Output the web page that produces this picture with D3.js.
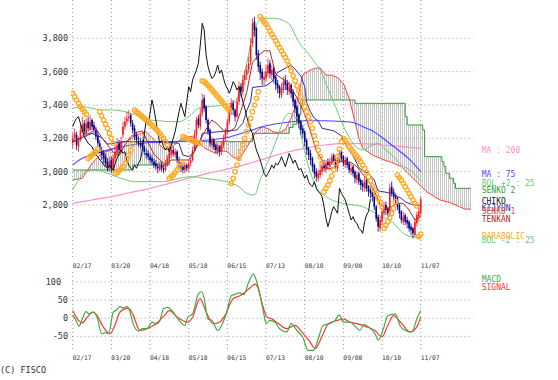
<!DOCTYPE html>
<html><head><meta charset="utf-8">
<script src="https://cdn.jsdelivr.net/npm/d3@7"></script>
<style>body{margin:0;background:#fff}text{font-family:"DejaVu Sans Mono",monospace}</style>
</head><body>
<svg id="c" width="558" height="380"></svg>
<script>
// ---------- data ----------
const dateLabels = ["02/17","03/20","04/18","05/18","06/15","07/13","08/10","09/08","10/10","11/07"];
const dateIdx = [0,20,40,60,80,100,120,140,160,180];
const priceTicks = [2800,3000,3200,3400,3600,3800];
const macdTicks = [-50,0,50,100];

const open = [3170,3200,3220,3150,3190,3240,3290,3230,3300,3250,3310,3280,3250,3220,3170,3120,3110,3090,3060,3020,
3070,3010,3080,3110,3170,3120,3220,3270,3300,3320,3340,3290,3260,3220,3180,3170,3170,3150,3110,3110,
3090,3080,3060,3050,3030,3010,3040,3020,3010,3050,3080,3100,3130,3100,3120,3070,3040,3030,3010,3040,
3020,3050,3070,3130,3220,3320,3270,3350,3440,3390,3310,3250,3160,3190,3160,3120,3150,3120,3160,3200,
3240,3300,3360,3410,3370,3330,3420,3510,3480,3550,3580,3610,3660,3770,3900,3860,3710,3640,3600,3550,
3560,3590,3650,3580,3620,3570,3530,3510,3460,3490,3550,3530,3480,3520,3480,3430,3390,3340,3300,3260,
3240,3190,3140,3110,3080,3040,3000,2960,2980,3000,3050,3010,3060,3030,3050,3100,3070,3020,3060,3120,
3090,3040,3080,3050,3000,3030,3000,2950,2990,2950,2930,2900,2950,2910,2890,2880,2860,2790,2730,2660,
2700,2750,2800,2780,2740,2910,2880,2860,2840,2800,2760,2700,2740,2710,2700,2670,2660,2620,2690,2730,2750];
const high = [3230,3260,3240,3210,3290,3330,3310,3320,3330,3340,3320,3300,3270,3240,3190,3150,3130,3110,3080,3090,
3090,3100,3150,3200,3190,3210,3300,3330,3360,3370,3350,3310,3280,3240,3210,3200,3190,3160,3140,3130,
3110,3100,3080,3070,3050,3060,3060,3040,3070,3100,3140,3150,3150,3140,3130,3090,3060,3050,3060,3050,
3070,3090,3150,3250,3330,3340,3380,3470,3460,3400,3320,3260,3210,3200,3170,3170,3160,3180,3220,3260,
3320,3390,3440,3430,3380,3440,3540,3530,3580,3610,3640,3690,3800,3920,3930,3870,3730,3660,3620,3600,
3640,3680,3670,3640,3630,3580,3550,3520,3530,3570,3580,3550,3540,3530,3490,3440,3400,3350,3310,3280,
3250,3200,3150,3130,3090,3050,3020,3010,3040,3070,3070,3070,3080,3080,3110,3110,3080,3090,3130,3130,
3100,3090,3090,3060,3050,3040,3010,3000,3000,2960,2950,2970,2960,2920,2910,2900,2870,2800,2740,2730,
2780,2820,2820,2790,2930,2940,2900,2870,2850,2810,2770,2760,2750,2730,2710,2690,2670,2720,2760,2790,2850];
const low = [3140,3180,3130,3120,3180,3230,3220,3210,3240,3240,3250,3230,3190,3150,3110,3070,3050,3030,3000,3000,
2990,3000,3060,3100,3110,3110,3200,3250,3280,3300,3270,3230,3190,3170,3150,3140,3130,3100,3080,3070,
3050,3040,3020,3010,2990,3000,3000,2990,3000,3030,3060,3080,3090,3080,3050,3020,3000,2990,2990,3000,
3000,3030,3060,3120,3200,3260,3250,3330,3360,3290,3220,3150,3140,3130,3110,3100,3090,3100,3140,3180,
3220,3280,3340,3340,3300,3320,3400,3450,3460,3520,3550,3590,3640,3750,3810,3670,3600,3550,3520,3520,
3540,3570,3560,3550,3530,3490,3470,3440,3440,3470,3490,3460,3460,3440,3390,3350,3300,3260,3220,3200,
3150,3100,3070,3040,3000,2960,2940,2940,2960,2980,3000,2990,3020,3010,3040,3040,3010,3000,3050,3060,
3030,3020,3020,2990,2980,2970,2930,2930,2920,2890,2880,2880,2880,2850,2840,2820,2770,2700,2640,2640,
2680,2730,2740,2720,2730,2850,2820,2800,2770,2720,2690,2680,2680,2660,2640,2620,2600,2610,2670,2700,2730];
const close = [3200,3230,3160,3190,3250,3280,3240,3290,3260,3300,3270,3250,3210,3170,3130,3100,3080,3050,3030,3060,
3020,3080,3120,3160,3130,3180,3270,3300,3320,3330,3290,3250,3210,3190,3170,3160,3150,3120,3100,3090,
3070,3060,3040,3030,3020,3040,3020,3010,3050,3080,3110,3130,3110,3120,3070,3040,3020,3010,3040,3020,
3050,3070,3130,3220,3310,3280,3350,3430,3380,3310,3240,3170,3190,3150,3130,3150,3120,3160,3200,3240,
3300,3360,3410,3370,3330,3420,3510,3480,3550,3580,3610,3650,3760,3890,3850,3700,3630,3590,3560,3570,
3600,3640,3590,3610,3560,3520,3500,3470,3500,3540,3520,3490,3510,3470,3420,3380,3330,3290,3250,3230,
3180,3130,3100,3070,3030,2990,2970,2990,3010,3040,3020,3050,3040,3060,3090,3060,3030,3070,3110,3080,
3050,3070,3040,3010,3020,2990,2960,2980,2940,2920,2910,2940,2900,2880,2870,2850,2790,2720,2670,2710,
2760,2790,2770,2750,2900,2870,2850,2830,2790,2750,2710,2730,2700,2690,2660,2650,2630,2700,2740,2760,2835];

const sar = [3470,3450,3430,3410,3390,3375,3360,3345,
3080,3090,3100,3110,3120,3135,
3360,3335,3310,3285,3260,3230,3200,3170,
2990,2995,3005,3015,3030,3050,3075,3100,3130,3165,
3370,3360,3350,3340,3330,3320,3310,3300,3290,3280,3268,3256,3244,3230,3215,3200,3180,3160,
2960,2970,2980,2995,3010,3030,3055,
3210,3205,3200,3195,3190,3185,3180,3178,3175,3172,
3545,3540,3530,3518,3505,3492,3478,3465,3450,3437,3423,3410,3395,3382,3370,
2930,2960,3000,3040,3080,3120,3160,3200,3240,3280,3320,3360,3400,3440,3480,
3930,3915,3900,3885,3865,3845,3825,3805,3785,3765,3745,3725,3705,3685,3665,3635,3605,3575,3545,3515,3485,3450,3420,3390,3360,3330,3300,3260,3215,3170,3130,3090,3050,
2880,2900,2920,2945,2975,3010,3050,3090,3135,3180,
3200,3188,3170,3150,3135,3120,3105,3090,3075,3060,3040,3020,2995,2970,2945,2915,2890,2865,2840,2815,2790,
2660,2680,2700,2725,2750,2780,2820,
2980,2965,2950,2930,2910,2890,2870,2850,2830,2810,2795,
2610,2625];

// [bar index, value]
const ma200 = [[0,2810],[10,2830],[20,2850],[30,2875],[40,2900],[50,2930],[60,2960],[70,2990],[80,3015],[90,3045],[100,3080],[110,3115],[120,3140],[130,3160],[140,3170],[150,3168],[160,3160],[170,3150],[180,3140]];
const ma75 = [[0,3040],[5,3080],[10,3100],[20,3135],[30,3160],[40,3175],[50,3180],[60,3185],[70,3190],[80,3205],[90,3240],[100,3275],[110,3295],[120,3305],[130,3305],[140,3300],[145,3295],[150,3270],[155,3245],[160,3205],[165,3160],[170,3115],[175,3065],[180,3000]];
const bolUp = [[0,3380],[5,3390],[10,3380],[15,3370],[20,3370],[25,3365],[30,3350],[35,3330],[40,3310],[45,3305],[50,3300],[55,3300],[60,3330],[65,3380],[70,3390],[75,3395],[80,3405],[84,3420],[86,3470],[88,3550],[90,3650],[92,3760],[94,3850],[96,3900],[98,3920],[104,3920],[110,3900],[113,3870],[115,3820],[118,3760],[121,3720],[125,3660],[128,3610],[131,3530],[133,3470],[136,3390],[139,3300],[141,3250],[145,3170],[150,3130],[155,3160],[158,3170],[162,3130],[166,3090],[170,3040],[175,3005],[180,2945]];
const bolDn = [[0,2890],[3,2950],[7,3000],[12,3010],[18,2990],[25,2960],[32,2940],[40,2940],[47,2940],[55,2960],[62,2970],[68,2960],[75,2950],[82,2930],[86,2910],[90,2870],[94,2860],[97,2950],[102,3090],[106,3210],[109,3310],[112,3350],[116,3310],[119,3170],[122,3030],[126,2910],[131,2850],[140,2810],[150,2790],[158,2740],[166,2690],[171,2630],[175,2610],[180,2605]];
const tenkan = [[0,3180],[3,3190],[6,3225],[9,3230],[12,3260],[15,3205],[18,3160],[21,3115],[24,3095],[27,3160],[30,3210],[33,3235],[36,3245],[39,3175],[42,3105],[45,3070],[48,3040],[51,3070],[54,3070],[57,3070],[60,3070],[63,3120],[66,3190],[69,3255],[72,3310],[75,3285],[78,3245],[81,3240],[84,3265],[87,3365],[90,3475],[93,3655],[96,3695],[99,3725],[102,3725],[105,3585],[108,3560],[111,3540],[114,3485],[117,3420],[120,3345],[123,3240],[126,3125],[129,3070],[132,3015],[135,3025],[138,3060],[141,3065],[144,3055],[147,3030],[150,2985],[153,2945],[156,2885],[159,2805],[162,2775],[165,2790],[168,2810],[171,2810],[174,2770],[177,2710],[180,2730]];
const kijun = [[0,3180],[10,3230],[15,3205],[18,3165],[26,3180],[45,3180],[55,3170],[57,3100],[60,3090],[63,3120],[64,3160],[66,3185],[67,3230],[85,3250],[86,3265],[88,3290],[90,3365],[92,3420],[93,3505],[100,3515],[103,3540],[105,3575],[106,3595],[113,3640],[118,3575],[120,3510],[121,3415],[123,3360],[125,3320],[127,3305],[129,3260],[135,3245],[139,3215],[140,3190],[142,3145],[145,3095],[147,3050],[148,3025],[150,3005],[153,2990],[156,2950],[157,2915],[158,2885],[165,2870],[168,2850],[170,2840],[172,2820],[175,2805],[180,2795]];
const senkou1 = [[0,2950],[5,2960],[10,3050],[15,3110],[20,3130],[25,3170],[29,3190],[32,3215],[35,3228],[38,3240],[41,3205],[44,3170],[47,3140],[50,3130],[53,3165],[56,3195],[59,3208],[62,3212],[65,3178],[68,3143],[71,3125],[74,3110],[77,3125],[80,3120],[83,3085],[86,3075],[89,3125],[92,3185],[95,3243],[98,3270],[101,3258],[104,3238],[107,3235],[110,3253],[113,3323],[116,3420],[119,3580],[122,3603],[125,3620],[128,3622],[131,3580],[134,3578],[137,3565],[140,3530],[143,3440],[146,3300],[148,3200],[150,3140],[155,3100],[160,3075],[165,3055],[170,3030],[173,2995],[176,2960],[180,2915],[183,2880],[190,2830],[195,2815],[200,2790],[203,2775],[206,2775]];
const senkou2 = [[0,3010],[31,3040],[50,3180],[93,3230],[112,3265],[114,3285],[116,3315],[117,3340],[118,3395],[119,3430],[146,3410],[172,3330],[173,3280],[181,3250],[182,3090],[191,3060],[192,3030],[193,2990],[195,2960],[197,2930],[198,2900],[206,2900]];
const macd = [[0,9],[1.7,-6],[3.2,-22],[4.7,-6],[6.9,18],[8.5,12],[10.6,17],[12.5,5],[15,-43],[17,-40],[18.5,-43],[21,17],[22.5,22],[24.5,32],[26,28],[28,32],[29.5,20],[31,-11],[34,-36],[36,-29],[38.5,-29],[41,-11],[43.5,-16],[45,-8],[47,26],[49,30],[52,17],[55,-6],[58,-20],[59.5,3],[62,12],[65,67],[66.7,73],[68,54],[70,-2],[72,-6],[75,-34],[77,-20],[79.7,17],[82,62],[84,66],[86.5,70],[88.5,65],[91,99],[93.4,122],[95,104],[97,62],[98.7,17],[100,-15],[102,-6],[104.6,-11],[107,-29],[110.7,-38],[113,-15],[116,-34],[119,-52],[121.8,-89],[124.5,-89],[127,-57],[129.5,-20],[133,-15],[135.7,-6],[137.8,9],[140,-11],[143.5,-11],[146,-22],[148.6,-34],[150.5,-18],[153,-24],[156.4,-43],[158,-61],[160.7,-29],[163,7],[166.8,12],[169.3,-20],[172,-34],[175.4,-38],[178,-2],[180,21]];
const signal = [[0,21],[3,-6],[5,-13],[7.5,3],[10.6,17],[12.5,8],[15.8,-24],[19.3,-43],[21.8,-20],[24.5,17],[28.7,28],[31,12],[34.8,-34],[38.3,-29],[41,-22],[44,-11],[47,5],[50,21],[54,3],[59.7,-11],[62,3],[65.9,54],[69,17],[72.7,-15],[76,-11],[79,10],[83,54],[86.5,62],[90,76],[92,85],[94.3,94],[96,81],[97.8,44],[100.5,3],[103,-2],[105.5,-11],[110.7,-29],[115,-20],[118.5,-38],[122.8,-66],[125.4,-84],[128.8,-52],[132.3,-15],[137,-6],[140,-2],[143.5,-11],[147,-15],[152,-24],[156.4,-34],[159.9,-52],[163,-20],[165.9,7],[170.2,-15],[174.5,-38],[178,-24],[180,3]];
const shiftChiko = 26;

// ---------- layout ----------
const svg = d3.select("#c");
const x = d3.scaleLinear().domain([0,180]).range([72.7,420.7]);
const xRight = 473;
const y = d3.scaleLinear().domain([2800,3800]).range([205,38.3]);
const ym = d3.scaleLinear().domain([-50,100]).range([336.3,282]);

const C = {grid:"#9a9a9a", ma200:"#ff8fc8", ma75:"#4a4aff", bol:"#66cc77", s2:"#3a9a3a", s1:"#ff4040",
  chiko:"#111", kijun:"#30309a", tenkan:"#b02828", sar:"#ffaa22", up:"#ff1a1a", dn:"#000088",
  macd:"#44aa44", sig:"#ff3333", txt:"#333"};

const defs = svg.append("defs");
const pat = defs.append("pattern").attr("id","hatch").attr("patternUnits","userSpaceOnUse").attr("width",2).attr("height",2);
pat.append("rect").attr("width",1).attr("height",2).attr("fill","#c4c4c4");
defs.append("clipPath").attr("id","clipMain").append("rect").attr("x",71).attr("y",0).attr("width",xRight-71).attr("height",258);
defs.append("clipPath").attr("id","clipMacd").append("rect").attr("x",72).attr("y",270).attr("width",xRight-72).attr("height",84);

// ---------- grids ----------
const g = svg.append("g");
dateIdx.forEach(i=>{
  g.append("line").attr("x1",x(i)).attr("x2",x(i)).attr("y1",0).attr("y2",258)
   .attr("stroke",C.grid).attr("stroke-dasharray","1,3");
  g.append("line").attr("x1",x(i)).attr("x2",x(i)).attr("y1",272).attr("y2",351)
   .attr("stroke",C.grid).attr("stroke-dasharray","1,3");
});
priceTicks.forEach(v=>{
  g.append("line").attr("x1",x(0)).attr("x2",xRight).attr("y1",y(v)).attr("y2",y(v))
   .attr("stroke",C.grid).attr("stroke-dasharray","1,3");
  g.append("text").attr("x",68).attr("y",y(v)+3).attr("text-anchor","end")
   .attr("font-size","8.5px").attr("fill",C.txt).text(d3.format(",")(v));
});
macdTicks.forEach(v=>{
  g.append("line").attr("x1",x(0)).attr("x2",xRight).attr("y1",ym(v)).attr("y2",ym(v))
   .attr("stroke",C.grid).attr("stroke-dasharray","1,3");
  g.append("text").attr("x",v>=100?61:68).attr("y",ym(v)+3).attr("text-anchor","end")
   .attr("font-size","8.5px").attr("fill",C.txt).text(v);
});
dateIdx.forEach((i,k)=>{
  [268.3,360].forEach(yy=>{
    g.append("text").attr("x",x(i)).attr("y",yy).attr("font-size","6.3px").attr("fill",C.txt).text(dateLabels[k]);
  });
});
svg.append("text").attr("x",0).attr("y",373).attr("font-size","8.5px").attr("fill",C.txt).text("(C) FISCO");

// ---------- main panel ----------
const main = svg.append("g").attr("clip-path","url(#clipMain)");
const lin = d3.line().x(d=>x(d[0])).y(d=>y(d[1]));
const smooth = d3.line().x(d=>x(d[0])).y(d=>y(d[1])).curve(d3.curveMonotoneX);
const stepA = d3.line().x(d=>x(d[0])).y(d=>y(d[1])).curve(d3.curveStepAfter);
const stepB = d3.line().x(d=>x(d[0])).y(d=>y(d[1])).curve(d3.curveStepBefore);

// cloud
const p1 = lin(senkou1);
const p2 = stepB(senkou2.slice().reverse()).replace(/^M/,"L");
main.append("path").attr("d",p1+p2+"Z").attr("fill","url(#hatch)").attr("stroke","none");
main.append("path").attr("d",stepA(senkou2)).attr("fill","none").attr("stroke",C.s2).attr("stroke-width",1);
main.append("path").attr("d",p1).attr("fill","none").attr("stroke",C.s1).attr("stroke-width",1);

const addLine=(data,gen,col,w)=>main.append("path").attr("d",gen(data)).attr("fill","none").attr("stroke",col).attr("stroke-width",w||1);
addLine(ma200,smooth,C.ma200,1.2);
addLine(ma75,smooth,C.ma75,1.1);
addLine(bolUp,smooth,C.bol,1);
addLine(bolDn,smooth,C.bol,1);

// candles
const candles = main.append("g");
close.forEach((c,i)=>{
  const o=open[i], col = c>=o?C.up:C.dn;
  candles.append("line").attr("x1",x(i)).attr("x2",x(i)).attr("y1",y(high[i])).attr("y2",y(low[i]))
    .attr("stroke",col).attr("stroke-width",0.8);
  const top=y(Math.max(o,c)), bot=y(Math.min(o,c));
  candles.append("rect").attr("x",x(i)-0.8).attr("width",1.6).attr("y",top).attr("height",Math.max(1,bot-top)).attr("fill",col);
});

addLine(kijun,lin,C.kijun,1);
addLine(tenkan,lin,C.tenkan,1);
const chikoData = close.map((c,i)=>[i-shiftChiko,c]).filter(d=>d[0]>=0);
addLine(chikoData,lin,C.chiko,1);

main.append("g").selectAll("circle").data(sar).join("circle")
  .attr("cx",(d,i)=>x(i)).attr("cy",d=>y(d)).attr("r",2.2)
  .attr("fill","none").attr("stroke",C.sar).attr("stroke-width",1.3);

// legend at last values
const last = a=>a[a.length-1][1];
const legend = [
  ["MA : 200", last(ma200), C.ma200],
  ["MA : 75", last(ma75), C.ma75],
  ["BOL +2 : 25", last(bolUp), C.bol],
  ["SENKO 2", last(senkou2), C.s2],
  ["CHIKO", close[close.length-1], C.chiko],
  ["KIJYUN", last(kijun), C.kijun],
  ["SENKO 1", last(senkou1), C.s1],
  ["TENKAN", last(tenkan), C.tenkan],
  ["PARABOLIC", sar[sar.length-1], C.sar],
  ["BOL -2 : 25", last(bolDn), C.bol]
];
legend.forEach(([t,v,col])=>{
  svg.append("text").attr("x",481.7).attr("y",y(v)+5).attr("font-size","8px").attr("fill",col).text(t);
});

// ---------- MACD panel ----------
const mg = svg.append("g").attr("clip-path","url(#clipMacd)");
const ml = d3.line().x(d=>x(d[0])).y(d=>ym(d[1])).curve(d3.curveMonotoneX);
mg.append("path").attr("d",ml(signal)).attr("fill","none").attr("stroke",C.sig).attr("stroke-width",1.2);
mg.append("path").attr("d",ml(macd)).attr("fill","none").attr("stroke",C.macd).attr("stroke-width",1.2);
svg.append("text").attr("x",481.7).attr("y",281.5).attr("font-size","8px").attr("fill",C.macd).text("MACD");
svg.append("text").attr("x",481.7).attr("y",290).attr("font-size","8px").attr("fill",C.sig).text("SIGNAL");
</script>
</body></html>
